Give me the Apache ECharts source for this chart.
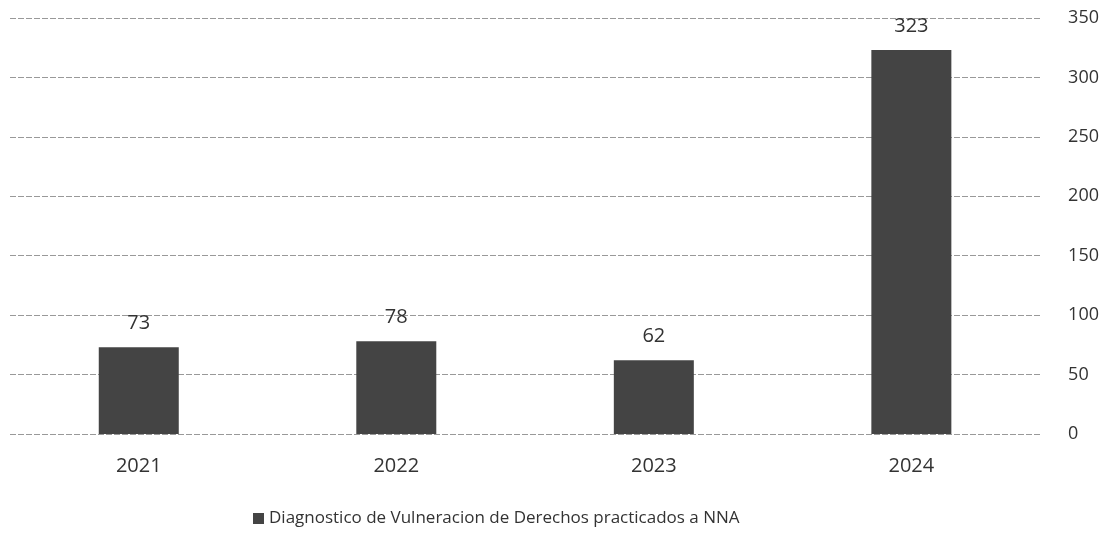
<!DOCTYPE html>
<html>
<head>
<meta charset="utf-8">
<script src="https://cdn.jsdelivr.net/npm/echarts@6/dist/echarts.min.js"></script>
<style>
  html, body { margin: 0; padding: 0; background: #fff; }
  #main { width: 1102px; height: 537px; }
</style>
</head>
<body>
<div id="main"></div>
<script>
// datos
var years = ['2021', '2022', '2023', '2024'];
var diagnosticos = [73, 78, 62, 323];
var seriesName = 'Diagnostico de Vulneracion de Derechos practicados a NNA';

var chart = echarts.init(document.getElementById('main'));
chart.setOption({
  animation: false,
  textStyle: { fontFamily: '"Open Sans", sans-serif' },
  grid: { left: 10, right: 60, top: 18, bottom: 103 },
  legend: {
    bottom: 5,
    left: 248,
    itemWidth: 11,
    itemHeight: 11,
    icon: 'rect',
    textStyle: { fontSize: 17, color: '#333' },
    data: [seriesName]
  },
  xAxis: {
    type: 'category',
    data: years,
    axisLine: { show: false },
    axisTick: { show: false },
    axisLabel: { fontSize: 20, color: '#333', margin: 22 }
  },
  yAxis: {
    type: 'value',
    position: 'right',
    min: 0,
    max: 350,
    interval: 50,
    axisLine: { show: false },
    axisTick: { show: false },
    axisLabel: { fontSize: 18, color: '#333', margin: 28 },
    splitLine: { lineStyle: { color: '#999', width: 1, type: [6, 2] } }
  },
  series: [{
    name: seriesName,
    type: 'bar',
    data: diagnosticos,
    barWidth: 80,
    itemStyle: { color: '#444' },
    label: {
      show: true,
      position: 'top',
      distance: 14,
      fontSize: 20,
      color: '#333'
    }
  }]
});
</script>
</body>
</html>
